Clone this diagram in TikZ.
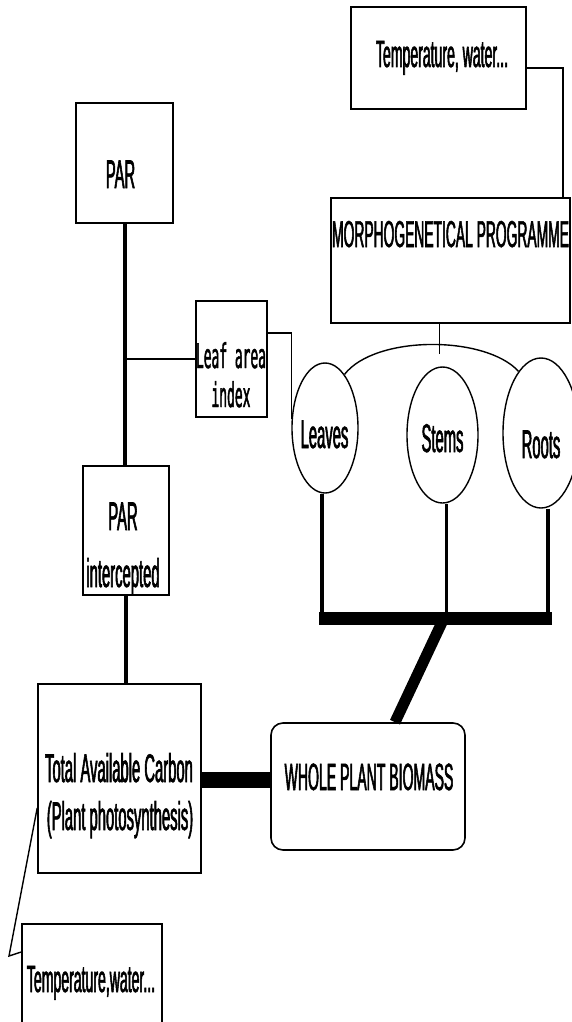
\documentclass[tikz,border=0pt]{standalone}
\usepackage{fontspec}
\newfontfamily\narrowsf[FakeStretch=0.37,FakeBold=1.4]{Liberation Sans}
\newfontfamily\narrowtt[FakeStretch=0.38,FakeBold=1.3]{DejaVu Sans Mono}
\usetikzlibrary{shapes.geometric,calc}
\begin{document}
\begin{tikzpicture}[x=1pt,y=-1pt,
  box/.style={draw,line width=1.6pt,inner sep=0pt},
  oval/.style={ellipse,draw,line width=1.4pt,inner sep=0pt},
  txt/.style={inner sep=0pt,anchor=base,font={\narrowsf\fontsize{40}{42}\selectfont}},
  monotxt/.style={inner sep=0pt,anchor=base,font={\narrowtt\fontsize{34}{40}\selectfont}},
  thin/.style={line width=1.4pt},
  mid/.style={line width=2pt},
  thick/.style={line width=4pt},
  heavy/.style={line width=13pt}]
\useasboundingbox (0,0) rectangle (572,1022);
\clip (0,0) rectangle (572,1022);

% boxes
\node[box,minimum width=175pt,minimum height=102pt] (tempTop) at (438.5,58) {};
\node[txt,font={\narrowsf\fontsize{38}{42}\selectfont}] (tempTopT) at (442,67) {Temperature, water...};

\node[box,minimum width=239pt,minimum height=125pt] (morph) at (450.5,260.5) {};
\node[txt,font={\narrowsf\fontsize{37.4}{42}\selectfont}] (morphT) at (450.5,247) {MORPHOGENETICAL PROGRAMME};

\node[box,minimum width=97pt,minimum height=120pt] (par) at (124.5,163) {};
\node[txt] (parT) at (120.5,188) {PAR};

\node[box,minimum width=71pt,minimum height=116pt] (lai) at (231.5,359) {};
\node[monotxt] (laiT1) at (231,368) {Leaf area};
\node[monotxt] (laiT2) at (231,407) {index};

\node[box,minimum width=86pt,minimum height=129pt] (parint) at (126,530.5) {};
\node[txt] (parintT1) at (123,530) {PAR};
\node[txt] (parintT2) at (123,587) {intercepted};

\node[box,minimum width=163pt,minimum height=189pt] (tac) at (119.5,778.5) {};
\node[txt] (tacT1) at (119,782) {Total Available Carbon};
\node[txt] (tacT2) at (120,830) {(Plant photosynthesis)};

\node[box,rounded corners=12pt,minimum width=194pt,minimum height=127pt] (wpb) at (368,786.5) {};
\node[txt,font={\narrowsf\fontsize{38}{42}\selectfont}] (wpbT) at (369,790) {WHOLE PLANT BIOMASS};

\node[box,minimum width=140pt,minimum height=112pt] (tempBot) at (92,980) {};
\node[txt,font={\narrowsf\fontsize{38}{42}\selectfont}] (tempBotT) at (91,992) {Temperature,water...};

% ellipses
\node[oval,minimum width=66pt,minimum height=130pt] (leaves) at (325,428) {};
\node[txt] (leavesT) at (324.5,448) {Leaves};
\node[oval,minimum width=71pt,minimum height=136pt] (stems) at (442.5,435) {};
\node[txt] (stemsT) at (442.5,452) {Stems};
\node[oval,minimum width=76pt,minimum height=150pt] (roots) at (541,433) {};
\node[txt] (rootsT) at (541,458) {Roots};

% coordinates
\coordinate (barL) at (319,618);
\coordinate (barR) at (552,618);
\coordinate (barM) at (444,618);
\coordinate (kink) at (9,956);

% connectors
\draw[thin] ([yshift=-10pt]tempTop.east) -- ++(36,0) |- ([xshift=-8pt]morph.north east);
\draw[thin] ([xshift=-11pt]morph.south) -- ++(0,30);
\draw[thin] (leaves.70) .. controls (375,335) and (485,335) .. (roots.110);

\draw[thick] (par.south) -- (par.south |- parint.north);
\draw[mid] (lai.west) -- (lai.west -| par.south);
\draw[thin] ([yshift=26pt]lai.east) -| (leaves.165);

\draw[thick] ([xshift=-3pt]leaves.south) -- ([xshift=-3pt]leaves.south |- barL);
\draw[line width=3pt] ([xshift=3.5pt]stems.south) -- ([xshift=3.5pt]stems.south |- barL);
\draw[thick] ([xshift=7pt]roots.south) -- ([xshift=7pt]roots.south |- barR);
\draw[heavy] (barL) -- (barR);
\draw[line width=11pt] (barM) -- ([xshift=27pt]wpb.north);

\draw[thick] (parint.south) -- (parint.south |- tac.north);
\draw[line width=16pt] ([yshift=-1.5pt]tac.east) -- ([yshift=-1.5pt]tac.east -| wpb.west);
\draw[thin] ([yshift=28pt]tempBot.west) -- (kink) -- ([yshift=-29.5pt]tac.west);
\end{tikzpicture}
\end{document}
